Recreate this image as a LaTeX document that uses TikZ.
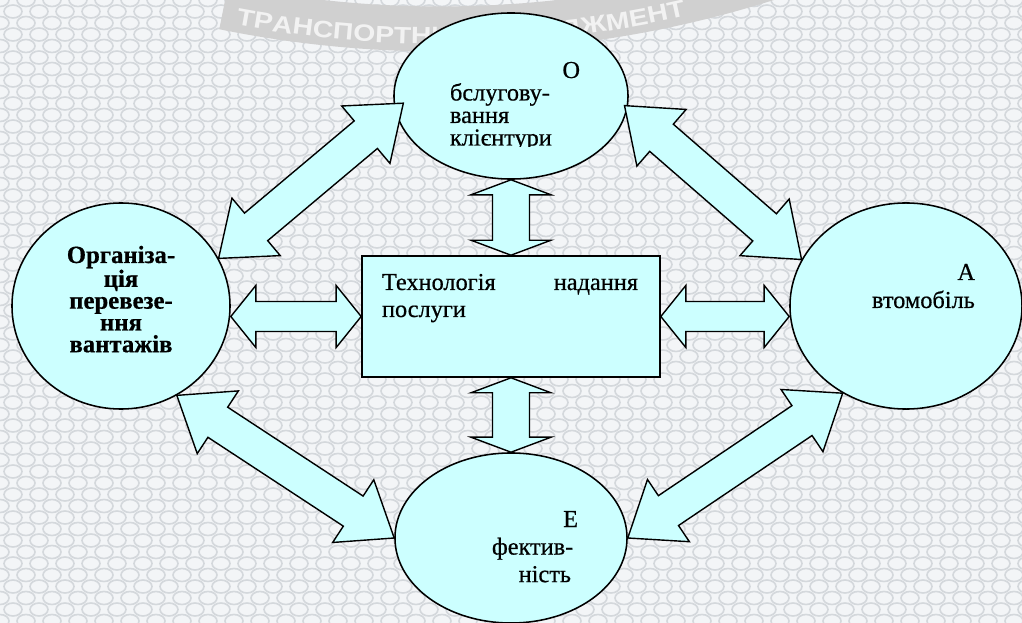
\documentclass[tikz,border=0pt]{standalone}
\usepackage{fontspec}
\setmainfont{Liberation Serif}
\newfontfamily\labelfont[FakeBold=0.6]{Liberation Serif}
\newfontfamily\sealfont[FakeStretch=1.2]{Liberation Sans}
\usetikzlibrary{shapes.geometric,calc,decorations.text}

\definecolor{paper}{HTML}{F3F5F7}
\definecolor{weave}{HTML}{D4D8DC}
\definecolor{pale}{HTML}{CCFFFF}
\definecolor{sealband}{HTML}{D0D0D0}
\definecolor{seallight}{HTML}{F2F2F2}

\tikzset{
  bubble/.style={ellipse, draw=black, line width=1.1pt, fill=pale, inner sep=0pt},
  panel/.style={rectangle, draw=black, line width=1.1pt, fill=pale, inner sep=0pt},
  blockarrow/.style={draw=black, line width=1pt, fill=pale, line join=miter},
  lbl/.style={inner sep=0pt, outer sep=0pt, font=\labelfont\fontsize{17.3}{#1}\selectfont},
}

% double-headed block arrow from #1 to #2:
% #3 head length, #4 head half-width, #5 shaft half-width
\newcommand\dblarrow[5]{%
  \coordinate (da-a) at #1;
  \coordinate (da-b) at #2;
  \coordinate (da-ha) at ($(da-a)!#3!(da-b)$);
  \coordinate (da-hb) at ($(da-b)!#3!(da-a)$);
  \path[blockarrow] (da-a)
    -- ($(da-ha)!#4!90:(da-b)$) -- ($(da-ha)!#5!90:(da-b)$)
    -- ($(da-hb)!#5!-90:(da-a)$) -- ($(da-hb)!#4!-90:(da-a)$)
    -- (da-b)
    -- ($(da-hb)!#4!90:(da-a)$) -- ($(da-hb)!#5!90:(da-a)$)
    -- ($(da-ha)!#5!-90:(da-b)$) -- ($(da-ha)!#4!-90:(da-b)$)
    -- cycle;
}

\begin{document}
\begin{tikzpicture}[x=0.025cm, y=-0.025cm]
\useasboundingbox (0,0) rectangle (1022,623);
\fill[paper] (0,0) rectangle (1022,623);

% woven paper texture and seal band
\begin{scope}
  \clip (0,0) rectangle (1022,623);
  \foreach \j in {0,...,55}{
    \pgfmathsetmacro\rowshift{mod(\j,2)*13}
    \foreach \i in {-1,...,40}{
      \draw[weave, line width=1.15pt] ({26*\i+\rowshift},{11.5*\j}) ellipse [x radius=9, y radius=6.5];
    }
  }
  \draw[sealband, line width=32pt] (440,-1056) ++(101.5:1085) arc[start angle=101.5, end angle=70, radius=1085];
  {\path[decorate,
        decoration={text along path, text align=left,
          text={|\color{seallight}\sealfont\bfseries\fontsize{16.8}{17}\selectfont|ТРАНСПОРТНИЙ МЕНЕДЖМЕНТ}}]
    (440,-1056) ++(100.7:1100) arc[start angle=100.7, end angle=68, radius=1100];}
\end{scope}

% shapes
\node[bubble, minimum width=5.85cm, minimum height=4.15cm] (serv) at (511,96) {};
\node[bubble, minimum width=5.45cm, minimum height=5.15cm] (org) at (121,306) {};
\node[bubble, minimum width=5.8cm, minimum height=5.15cm] (auto) at (906,306) {};
\node[bubble, minimum width=5.8cm, minimum height=4.25cm] (eff) at (511,538) {};
\node[panel, minimum width=7.45cm, minimum height=3.025cm] (tech) at (511,316.5) {};

% connectors
\dblarrow{(serv.south)}{(tech.north)}{0.375cm}{1cm}{0.4625cm}
\dblarrow{(tech.south)}{(eff.north)}{0.375cm}{1cm}{0.4625cm}
\dblarrow{(org.east |- tech.west)}{(tech.west)}{0.625cm}{0.775cm}{0.375cm}
\dblarrow{(tech.east)}{(auto.west |- tech.east)}{0.625cm}{0.775cm}{0.375cm}
\dblarrow{($(serv.187)!-0.275cm!(org.26)$)}{(org.26)}{1.225cm}{0.9375cm}{0.45cm}
\dblarrow{($(serv.354)!-0.1cm!(auto.156)$)}{(auto.156)}{1.225cm}{0.9375cm}{0.45cm}
\dblarrow{(org.302)}{(eff.180)}{1.225cm}{0.9375cm}{0.45cm}
\dblarrow{(auto.234)}{(eff.0)}{1.225cm}{0.9375cm}{0.45cm}

% texts
\begin{scope}
  \clip (430,40) rectangle (600,147);
  \node[lbl=16pt, anchor=base west, text width=3.25cm, align=left] (servtxt) at (450,78)
    {\hbox to\linewidth{\hfil О}\\бслугову-\\вання\\клієнтури};
\end{scope}
\node[lbl=15.5pt, anchor=base, text width=4cm, align=center] (orgtxt) at (121,263)
  {\fontsize{17.6}{15.5pt}\selectfont\bfseries Організа-\\ція\\перевезе-\\ння\\вантажів};
\node[lbl=19.9pt, anchor=base west, text width=2.575cm, align=left] (autotxt) at (872,280)
  {\hbox to\linewidth{\hfil А}\\втомобіль};
\node[lbl=19.6pt, anchor=base west, text width=2.15cm, align=left] (efftxt) at (492,527)
  {\hbox to\linewidth{\hfil Е}\\фектив-\\\hbox to\linewidth{\hfil ність\kern5pt}};
\node[lbl=19.2pt, anchor=base west, text width=6.4cm, align=left] (techtxt) at (382,290)
  {\hbox to\linewidth{Технологія\hfil надання}\\послуги};
\end{tikzpicture}
\end{document}
